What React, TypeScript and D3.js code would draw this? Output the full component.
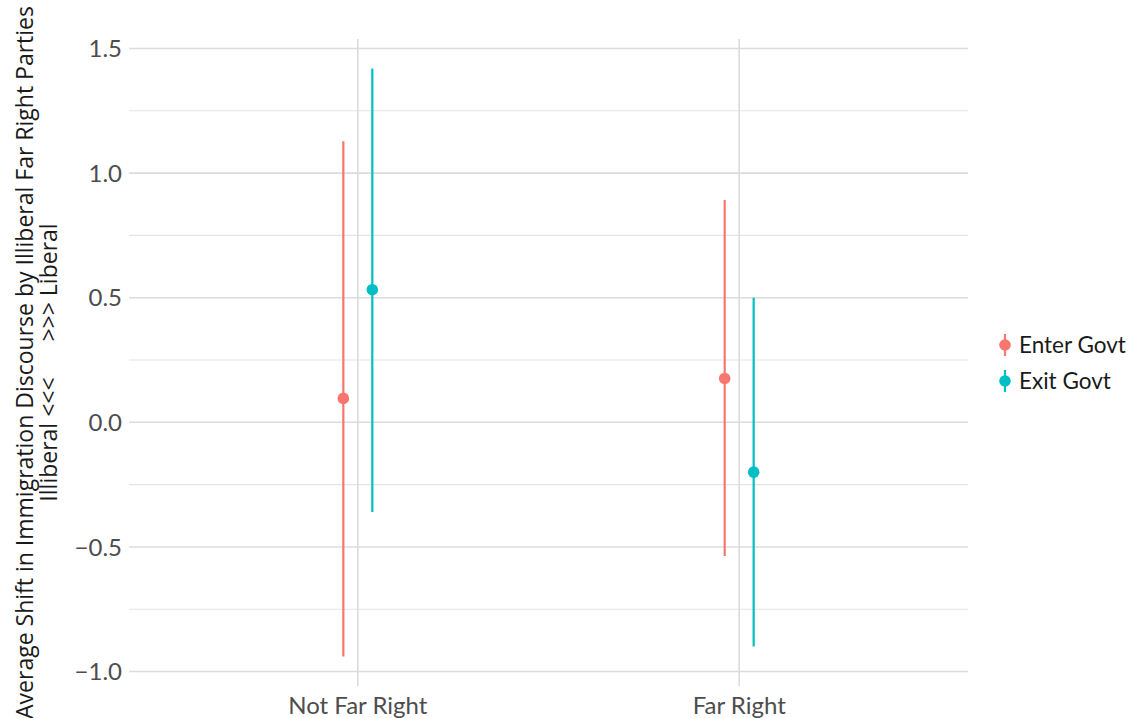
import React, { useEffect, useRef } from 'react';
import * as d3 from 'd3';

// data
const categories = ['Not Far Right', 'Far Right'];
const groups = ['Enter Govt', 'Exit Govt'];
const estimate = [
  [0.096, 0.532], // Not Far Right: enter, exit
  [0.176, -0.2],  // Far Right
];
const lower = [
  [-0.94, -0.36],
  [-0.536, -0.9],
];
const upper = [
  [1.128, 1.42],
  [0.892, 0.5],
];
const yTicks = [-1.0, -0.5, 0.0, 0.5, 1.0, 1.5];
const yMinorTicks = [-0.75, -0.25, 0.25, 0.75, 1.25];
const colors = ['#F8766D', '#00BFC4'];

const W = 1134;
const H = 718;
const FONT = 'Lato, "Open Sans", sans-serif';
const TITLE_FONT = '"Open Sans", Lato, sans-serif';

const App = () => {
  const svgRef = useRef<SVGSVGElement>(null);

  useEffect(() => {
    const svg = d3.select(svgRef.current);
    svg.selectAll('*').remove();

    const panel = { left: 129, right: 968, top: 39, bottom: 686 };

    // ggplot style discrete expansion (0.6 each side)
    const x = d3.scaleLinear().domain([0.4, 2.6]).range([panel.left, panel.right]);
    const y = d3.scaleLinear().domain([-1.058, 1.538]).range([panel.bottom, panel.top]);
    const dodge = 0.038;

    const g = svg.append('g');

    // minor grid
    g.selectAll('.minor')
      .data(yMinorTicks)
      .join('line')
      .attr('x1', panel.left)
      .attr('x2', panel.right)
      .attr('y1', d => y(d))
      .attr('y2', d => y(d))
      .attr('stroke', '#e4e4e4')
      .attr('stroke-width', 1.1);

    // major grid
    g.selectAll('.major')
      .data(yTicks)
      .join('line')
      .attr('x1', panel.left)
      .attr('x2', panel.right)
      .attr('y1', d => y(d))
      .attr('y2', d => y(d))
      .attr('stroke', '#dcdcdc')
      .attr('stroke-width', 1.6);

    g.selectAll('.vgrid')
      .data(categories)
      .join('line')
      .attr('x1', (d, i) => x(i + 1))
      .attr('x2', (d, i) => x(i + 1))
      .attr('y1', panel.top)
      .attr('y2', panel.bottom)
      .attr('stroke', '#dcdcdc')
      .attr('stroke-width', 1.6);

    // y tick labels
    g.selectAll('.ylab')
      .data(yTicks)
      .join('text')
      .attr('x', panel.left - 7)
      .attr('y', d => y(d))
      .attr('dy', '0.36em')
      .attr('text-anchor', 'end')
      .attr('font-family', FONT)
      .attr('font-size', 24)
      .attr('fill', '#4d4d4d')
      .text(d => (d < 0 ? '\u2212' : '') + Math.abs(d).toFixed(1));

    // x tick labels
    g.selectAll('.xlab')
      .data(categories)
      .join('text')
      .attr('x', (d, i) => x(i + 1))
      .attr('y', 714)
      .attr('text-anchor', 'middle')
      .attr('font-family', FONT)
      .attr('font-size', 24)
      .attr('fill', '#4d4d4d')
      .text(d => d);

    // y axis title, two centred lines
    const cy = (panel.top + panel.bottom) / 2;
    const title = g.append('text')
      .attr('transform', `translate(0,${cy}) rotate(-90)`)
      .attr('text-anchor', 'middle')
      .attr('font-family', TITLE_FONT)
      .attr('font-size', 23)
      .attr('fill', '#1a1a1a')
      .style('white-space', 'pre');
    title.append('tspan').attr('x', 0).attr('y', 33)
      .text('Average Shift in Immigration Discourse by Illiberal Far Right Parties');
    title.append('tspan').attr('x', 0).attr('y', 57)
      .text('Illiberal <<<      >>> Liberal');

    // error bars and points
    categories.forEach((c, ci) => {
      groups.forEach((grp, gi) => {
        const cx = x(ci + 1 + (gi === 0 ? -dodge : dodge));
        g.append('line')
          .attr('x1', cx).attr('x2', cx)
          .attr('y1', y(lower[ci][gi]))
          .attr('y2', y(upper[ci][gi]))
          .attr('stroke', colors[gi])
          .attr('stroke-width', 2.2);
        g.append('circle')
          .attr('cx', cx)
          .attr('cy', y(estimate[ci][gi]))
          .attr('r', 5.8)
          .attr('fill', colors[gi]);
      });
    });

    // legend
    const legend = g.append('g').attr('transform', 'translate(1005,345)');
    groups.forEach((grp, gi) => {
      const row = legend.append('g').attr('transform', `translate(0,${gi * 36})`);
      row.append('line')
        .attr('x1', 0).attr('x2', 0)
        .attr('y1', -11).attr('y2', 11)
        .attr('stroke', colors[gi])
        .attr('stroke-width', 2.2);
      row.append('circle').attr('r', 5.8).attr('fill', colors[gi]);
      row.append('text')
        .attr('x', 14)
        .attr('dy', '0.36em')
        .attr('font-family', FONT)
        .attr('font-size', 22.5)
        .attr('fill', '#1a1a1a')
        .text(grp);
    });
  }, []);

  return (
    <div style={{ position: 'fixed', left: 0, top: 0, background: '#fff' }}>
      <svg ref={svgRef} width={W} height={H}></svg>
    </div>
  );
};

export default App;
